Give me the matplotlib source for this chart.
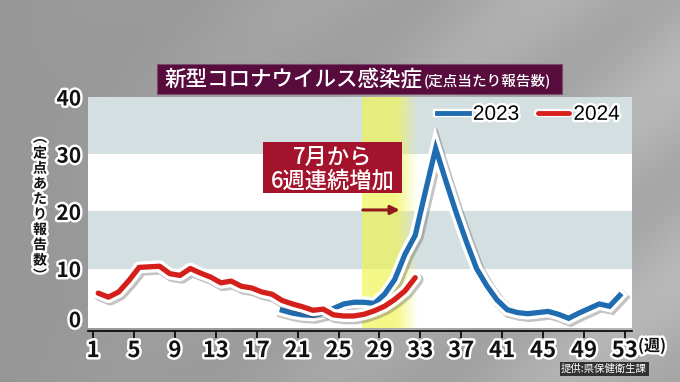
import numpy as np
import matplotlib
matplotlib.use('Agg')
import matplotlib.pyplot as plt
import matplotlib.patheffects as pe
from matplotlib.patches import Rectangle
from matplotlib.transforms import ScaledTranslation

plt.rcParams['font.family'] = ['Noto Sans CJK JP', 'DejaVu Sans']

# ---------------- data ----------------
weeks_2024 = list(range(1, 33))
cases_2024 = [5.7, 5.0, 5.9, 7.9, 10.2, 10.3, 10.4, 9.1, 8.8, 10.0, 9.2, 8.5,
              7.5, 7.8, 6.9, 6.6, 5.9, 5.5, 4.4, 3.8, 3.3, 2.7, 2.9, 1.9,
              1.7, 1.7, 2.0, 2.6, 3.4, 4.6, 6.1, 8.4]
weeks_2023 = list(range(19, 53))
cases_2023 = [2.7, 2.2, 1.9, 1.8, 2.2, 3.0, 3.8, 4.1, 4.1, 3.9, 5.5, 8.1,
              12.5, 15.8, 23.5, 31.0, 25.3, 19.8, 14.7, 10.0, 7.0, 4.5, 2.8, 2.3,
              2.1, 2.3, 2.5, 2.0, 1.3, 2.2, 3.0, 3.8, 3.4, 5.3]
x_ticks = [1, 5, 9, 13, 17, 21, 25, 29, 33, 37, 41, 45, 49, 53]
y_ticks = [0, 10, 20, 30, 40]
series_labels = ['2023', '2024']
highlight_weeks = (26.8, 32.2)

W, H = 680, 382
fig = plt.figure(figsize=(W / 100, H / 100), dpi=100)

# background gradient
bg = fig.add_axes([0, 0, 1, 1], zorder=-10)
yy, xx = np.mgrid[0:1:200j, 0:1:300j]
g = 0.59 + 0.10 * xx + 0.035 * np.sin((xx * 3 + yy * 2) * 6) * xx
bg.imshow(np.dstack([g, g, g]), extent=[0, 1, 0, 1], aspect='auto', origin='upper')
bg.set_axis_off()

def fx(x):
    return x / W

def fy(y):
    return 1 - y / H

# main axes
left, right, top, bottom = 88, 632, 97, 328
ax = fig.add_axes([fx(left), fy(bottom), (right - left) / W, (bottom - top) / H])
ax.set_xlim(0.0, 53.2)
ax.set_ylim(-0.4, 40)
ax.set_facecolor('white')

band_col = '#d4dfe2'
ax.axhspan(10, 20, color=band_col, zorder=0, lw=0)
ax.axhspan(30, 40.5, color=band_col, zorder=0, lw=0)

# yellow highlight with fade on the right
nx = 200
alpha = np.ones(nx) * 0.68
fade_start = int(nx * 0.62)
alpha[fade_start:] = np.linspace(0.68, 0.0, nx - fade_start)
rgba = np.zeros((2, nx, 4))
rgba[..., 0] = 240 / 255
rgba[..., 1] = 245 / 255
rgba[..., 2] = 80 / 255
rgba[..., 3] = alpha
ax.imshow(rgba, extent=[highlight_weeks[0], highlight_weeks[1], -0.4, 40],
          aspect='auto', zorder=1, interpolation='bilinear')

effects = [pe.SimpleLineShadow(offset=(1.5, -1.5), shadow_color='#555555', alpha=0.35, linewidth=9),
           pe.Stroke(linewidth=8.5, foreground='white'), pe.Normal()]
ax.plot(weeks_2023, cases_2023, color='#1f6cb0', lw=3.8, solid_joinstyle='miter',
        path_effects=effects, zorder=3, label=series_labels[0])
ax.plot(weeks_2024, cases_2024, color='#d41f1a', lw=3.8, solid_joinstyle='round',
        solid_capstyle='round', path_effects=effects, zorder=4, label=series_labels[1])

# axes styling
for s in ['left', 'right', 'top']:
    ax.spines[s].set_visible(False)
ax.spines['bottom'].set_color('black')
ax.spines['bottom'].set_linewidth(1.2)
ax.spines['bottom'].set_position(('outward', 2))
ax.set_xticks([t - 0.5 for t in x_ticks])
ax.set_xticklabels([str(t) for t in x_ticks])
ax.set_yticks(y_ticks)
ax.set_yticklabels([str(t) for t in y_ticks])
ax.tick_params(axis='x', direction='out', length=5, width=1.2, color='black',
               labelsize=14, pad=1)
ax.tick_params(axis='y', length=0, labelsize=15, pad=5)
outline = [pe.withStroke(linewidth=3.5, foreground='white')]
for lab in ax.get_xticklabels():
    lab.set_path_effects(outline)
    lab.set_family(['Liberation Sans Narrow', 'Noto Sans CJK JP'])
    lab.set_fontweight('bold')
    lab.set_fontsize(16)
    lab.set_color('#111111')
for lab in ax.get_yticklabels():
    lab.set_path_effects(outline)
    lab.set_fontweight('bold')
    lab.set_color('#111111')
zero_lab = ax.get_yticklabels()[0]
zero_lab.set_transform(zero_lab.get_transform() + ScaledTranslation(0, 7 / 100, fig.dpi_scale_trans))

# legend
leg = ax.legend(loc='center right', bbox_to_anchor=(1.012, 0.925), ncol=2, frameon=False,
                handlelength=1.5, handletextpad=0.2, columnspacing=0.9,
                prop={'family': ['Liberation Sans', 'DejaVu Sans'], 'size': 15})
for t in leg.get_texts():
    t.set_path_effects(outline)
for h in leg.get_lines():
    h.set_linewidth(3.5)
    h.set_path_effects([pe.Stroke(linewidth=6, foreground='white'), pe.Normal()])

# annotation box
ax.add_patch(Rectangle((0.3217, 0.583), 0.2555, 0.2235, transform=ax.transAxes,
                       facecolor='#a3142c', edgecolor='none', zorder=5))
ax.text(0.449, 0.738, '7月から', transform=ax.transAxes, ha='center', va='center',
        color='white', fontsize=16, fontweight='medium', zorder=6)
ax.text(0.449, 0.635, '6週連続増加', transform=ax.transAxes, ha='center', va='center',
        color='white', fontsize=16, fontweight='medium', zorder=6)
ax.annotate('', xy=(0.578, 0.511), xytext=(0.50, 0.511), xycoords='axes fraction',
            arrowprops=dict(arrowstyle='-|>', color='#8e1a1e', lw=2.2, mutation_scale=13),
            zorder=6)

# title box
fig.patches.append(Rectangle((fx(157), fy(94)), (562 - 157) / W, 30 / H,
                             transform=fig.transFigure, facecolor='#570c3d',
                             edgecolor='#7a4a6a', lw=0.8, zorder=2))
fig.text(fx(164), fy(79), '新型コロナウイルス感染症', color='white', fontsize=15.5,
         fontweight='medium', ha='left', va='center', zorder=3)
fig.text(fx(424), fy(80.5), '(定点当たり報告数)', color='white', fontsize=10.5,
         fontweight='medium', ha='left', va='center', zorder=3)

# vertical y label (one text, stacked characters)
ylabel_chars = ['︵', '定', '点', 'あ', 'た', 'り', '報', '告', '数', '︶']
fig.text(fx(40), fy(207), '\n'.join(ylabel_chars), color='#111111', fontsize=10,
         fontweight='bold', ha='center', va='center', linespacing=1.12,
         path_effects=outline)

# unit
fig.text(fx(652), fy(346), '(週)', color='#111111', fontsize=11.5, fontweight='bold',
         ha='center', va='center', path_effects=outline)

# source
fig.text(fx(604), fy(369), '提供:県保健衛生課', color='white', fontsize=7.5,
         ha='center', va='center',
         bbox=dict(boxstyle='square,pad=0.15', facecolor='#333333', edgecolor='none'))

fig.savefig('out.png', dpi=100)
